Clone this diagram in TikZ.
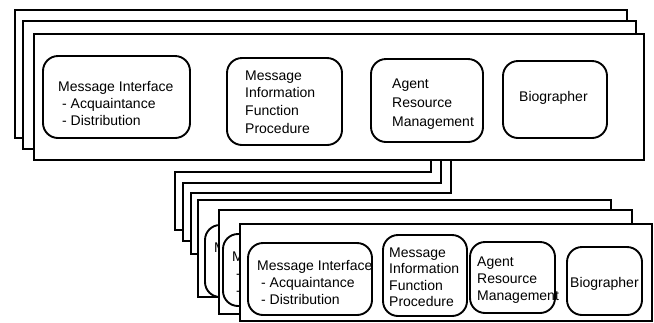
\documentclass[tikz,border=0pt]{standalone}
\usepackage{fontspec}
\setmainfont{Liberation Sans}

% front panel of the lower stack, #1 = name prefix, #2 = top left corner
\newcommand{\lowpanel}[2]{%
  \begin{scope}[shift={(#2)}]
    \draw[modbox] (8,19) rectangle (132,91);
    \draw[modbox] (143,11) rectangle (227,92);
    \draw[modbox] (230,18) rectangle (315,89);
    \draw[modbox] (327,23) rectangle (402,91);
    \node[lbl, font=\fontsize{14bp}{17bp}\selectfont] (#1-msg) at (17,36.4) {Message Interface\\\hspace*{4bp}- Acquaintance\\\hspace*{4bp}- Distribution};
    \node[lbl, font=\fontsize{14bp}{16.5bp}\selectfont] (#1-inf) at (149,23.4) {Message\\Information\\Function\\Procedure};
    \node[lbl, font=\fontsize{14bp}{17bp}\selectfont] (#1-arm) at (237,32.4) {Agent\\Resource\\Management};
    \node[lbl] (#1-bio) at (330,53.4) {Biographer};
  \end{scope}}

% what shows of a panel further back, #3 = the strip left visible
\newcommand{\backpanel}[3]{%
  \begin{scope}
    \clip #3;
    \begin{scope}[shift={(#2)}]
      \draw[modbox] (8,19) rectangle (132,91);
      \node[lbl, font=\fontsize{14bp}{17bp}\selectfont] (#1-msg) at (17,36.4) {M\\\hspace*{4bp}-\\\hspace*{4bp}-};
    \end{scope}
  \end{scope}}

\begin{document}
\begin{tikzpicture}[x=1bp, y=-1bp,
    frame/.style={draw, fill=white, line width=2.4bp, line join=miter},
    edge/.style={line width=2.4bp, line join=miter},
    modbox/.style={draw, line width=1.9bp, rounded corners=15bp},
    lbl/.style={anchor=north west, inner sep=0pt, align=left, font=\fontsize{14bp}{18bp}\selectfont}]
    \useasboundingbox (0,0) rectangle (654,322);

    % back panels of the lower stack, tied up under the top stack
    \fill[white] (175,172) rectangle (431,230);
    \draw[edge] (431,155) -- (431,172) -- (175,172) -- (175,230) -- (190,230);
    \fill[white] (183,183) rectangle (441,241);
    \draw[edge] (441,155) -- (441,183) -- (183,183) -- (183,241) -- (195,241);
    \fill[white] (191,193) rectangle (451,254);
    \draw[edge] (451,155) -- (451,193) -- (191,193) -- (191,254) -- (205,254);

    % top stack
    \draw[frame] (15,10) rectangle (627,138);
    \draw[frame] (23,21) rectangle (636,149);
    \draw[frame] (34,34) rectangle (644,160);
    \draw[modbox] (43,56) rectangle (190,138);
    \draw[modbox] (227,58) rectangle (342,145);
    \draw[modbox] (371,59) rectangle (483,142);
    \draw[modbox] (503,61) rectangle (607,138);
    \node[lbl, font=\fontsize{14bp}{17bp}\selectfont] (top-msg) at (58,81.4) {Message Interface\\\hspace*{4bp}- Acquaintance\\\hspace*{4bp}- Distribution};
    \node[lbl, font=\fontsize{14bp}{17.7bp}\selectfont] (top-inf) at (245,70.4) {Message\\Information\\Function\\Procedure};
    \node[lbl, font=\fontsize{14bp}{19bp}\selectfont] (top-arm) at (392,78.4) {Agent\\Resource\\Management};
    \node[lbl] (top-bio) at (519,91.4) {Biographer};

    % lower stack
    \draw[frame] (198,200) rectangle (611,297);
    \backpanel{p4}{197,206}{(199,201) rectangle (219,296)}
    \draw[frame] (219,210) rectangle (632,314);
    \backpanel{p5}{215,215}{(220,211) rectangle (240,313)}
    \draw[frame, line width=1.8bp] (240,224) rectangle (652,321);
    \lowpanel{p6}{240,224}
\end{tikzpicture}
\end{document}
